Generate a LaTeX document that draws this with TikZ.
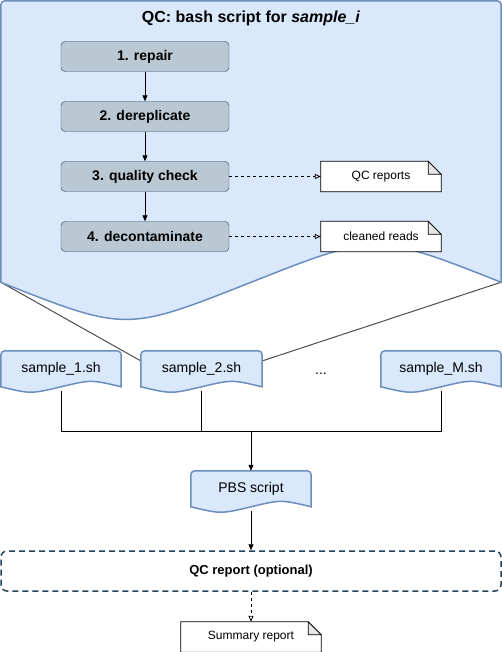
\documentclass[tikz,border=0pt]{standalone}
\usepackage{fontspec}
\setmainfont{Liberation Sans}
\usetikzlibrary{arrows.meta,calc,backgrounds}
\definecolor{sky}{HTML}{DAE8FC}
\definecolor{steel}{HTML}{6C8EBF}
\definecolor{slate}{HTML}{BAC8D3}
\definecolor{navy}{HTML}{23445D}
\definecolor{ash}{HTML}{E6E6E6}
\definecolor{graphite}{HTML}{4D4D4D}

\begin{document}
\begin{tikzpicture}[
  x=1pt,y=-1pt,
  font=\fontsize{14pt}{16pt}\selectfont,
  stepbox/.style={rectangle,rounded corners=4pt,draw=navy,fill=slate,minimum width=168pt,minimum height=30pt,font=\fontsize{14pt}{16pt}\selectfont\bfseries},
  script/.style={rectangle,minimum width=120pt,minimum height=40pt,text height=10pt,text depth=7pt},
  note/.style={rectangle,minimum width=120pt,minimum height=30pt,font=\fontsize{12pt}{14pt}\selectfont},
  optbox/.style={rectangle,rounded corners=6pt,draw=navy,line width=1.5pt,dash pattern=on 6pt off 4pt,minimum width=500pt,minimum height=40pt,font=\fontsize{13pt}{15pt}\selectfont\bfseries},
  docline/.style={draw=steel,fill=sky,line width=1.5pt},
  notedraw/.style={draw=black,fill=white,line width=0.8pt},
  arr/.style={-{Triangle[length=6pt,width=5pt]},line width=0.8pt},
  darr/.style={-{Triangle[open,length=6pt,width=5pt,fill=white]},line width=0.8pt,dashed},
  link/.style={graphite,line width=1pt},
  bus/.style={line width=0.8pt}
]
\useasboundingbox (0,0) rectangle (502,652);
\node[minimum width=500pt,minimum height=281pt] (qc) at (251,141.5) {};
\node[font=\fontsize{16pt}{18pt}\selectfont\bfseries] (title) at (251,18) {QC: bash script for \textit{sample\_i}};
\node[stepbox] (repair) at (145,56.5) {1. repair};
\node[stepbox] (derep) at (145,116.5) {2. dereplicate};
\node[stepbox] (check) at (145,176.5) {3. quality check};
\node[stepbox] (decont) at (145,236.5) {4. decontaminate};
\node[note] (qcrep) at (381,176.5) {QC reports};
\node[note] (reads) at (381,236.5) {cleaned reads};
\node[script] (s1) at (61,371) {sample\_1.sh};
\node[script,minimum width=121pt] (s2) at (201.5,371) {sample\_2.sh};
\node[text height=10pt,text depth=7pt] (dots) at (321,373) {...};
\node[script] (sM) at (441,371) {sample\_M.sh};
\coordinate (join) at (251,431);
\node[script] (pbs) at (251,491) {PBS script};
\node[optbox] (opt) at (251,571) {QC report (optional)};
\node[note,minimum width=140pt] (summary) at (251,637) {Summary report};
\draw[arr] (repair) -- (derep);
\draw[arr] (derep) -- (check);
\draw[arr] (check) -- (decont);
\draw[darr] (check) -- (qcrep);
\draw[darr] (decont) -- (reads);
\draw[bus] (s1.south) |- (join);
\draw[bus] (s2.south) |- (join);
\draw[bus] (sM.south) |- (join);
\draw[arr] (join) -- (pbs);
\draw[arr] (pbs) -- (opt);
\draw[darr] (opt) -- (summary);
\begin{scope}[on background layer]
\draw[link] (qc.south west) -- ($(s2.north west)!0.25!(s2.south west)$);
\draw[link] (qc.south east) -- ($(s2.north east)!0.25!(s2.south east)$);
% wavy script shapes
\foreach \n/\h/\d in {qc/309/55,s1/40/8,s2/40/8,sM/40/8,pbs/40/8}
  \filldraw[docline] ($(\n.north west)+(0,{\h-\d/2})$) [rounded corners=4pt] -- (\n.north west) -- (\n.north east) [sharp corners] -- ($(\n.north east)+(0,{\h-\d/2})$)
    .. controls ($(\n.north east)!0.25!(\n.north west)+(0,{\h-1.4*\d})$) .. ($(\n.north)+(0,{\h-\d/2})$)
    .. controls ($(\n.north west)!0.25!(\n.north east)+(0,{\h+0.4*\d})$) .. ($(\n.north west)+(0,{\h-\d/2})$) -- cycle;
% notes with folded corner
\foreach \n in {qcrep,reads,summary} {
  \filldraw[notedraw] (\n.south west) -- (\n.north west) -- ([xshift=-13pt]\n.north east) -- ([yshift=-13pt]\n.north east) -- (\n.south east) -- cycle;
  \filldraw[notedraw,fill=ash] ([xshift=-13pt]\n.north east) -- ([xshift=-13pt,yshift=-13pt]\n.north east) -- ([yshift=-13pt]\n.north east) -- cycle;
}
\end{scope}
\end{tikzpicture}
\end{document}
